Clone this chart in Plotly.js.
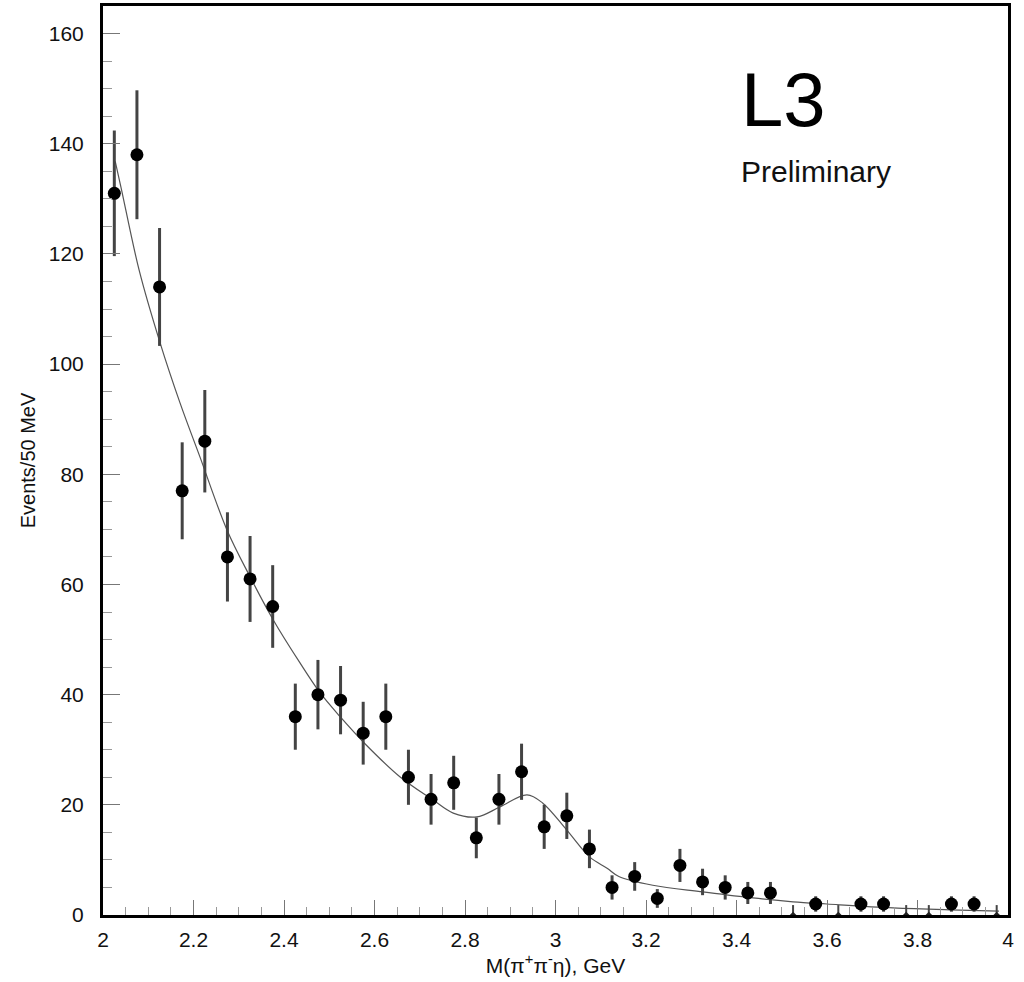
<!DOCTYPE html>
<html>
<head>
<meta charset="utf-8">
<script src="https://cdn.plot.ly/plotly-3.0.1.min.js"></script>
<style>
  html, body { margin: 0; padding: 0; background: #fff; }
  #plot { width: 1024px; height: 982px; }
</style>
</head>
<body>
<div id="plot"></div>
<script>
// Bin centres (GeV), 50 MeV bins
const massBins = [2.025, 2.075, 2.125, 2.175, 2.225, 2.275, 2.325, 2.375, 2.425, 2.475,
                  2.525, 2.575, 2.625, 2.675, 2.725, 2.775, 2.825, 2.875, 2.925, 2.975,
                  3.025, 3.075, 3.125, 3.175, 3.225, 3.275, 3.325, 3.375, 3.425, 3.475,
                  3.575, 3.675, 3.725, 3.875, 3.925];
const events = [131, 138, 114, 77, 86, 65, 61, 56, 36, 40,
                39, 33, 36, 25, 21, 24, 14, 21, 26, 16,
                18, 12, 5, 7, 3, 9, 6, 5, 4, 4,
                2, 2, 2, 2, 2];
const eventErrors = [11.4, 11.7, 10.7, 8.8, 9.3, 8.1, 7.8, 7.5, 6.0, 6.3,
                     6.2, 5.7, 6.0, 5.0, 4.6, 4.9, 3.7, 4.6, 5.1, 4.0,
                     4.2, 3.5, 2.2, 2.6, 1.7, 3.0, 2.4, 2.2, 2.0, 2.0,
                     1.4, 1.4, 1.4, 1.4, 1.4];

// Empty bins, drawn with an upper limit only
const emptyBins = [3.525, 3.625, 3.775, 3.825, 3.975];
const emptyCounts = [0, 0, 0, 0, 0];
const emptyUpper = [1.8, 1.8, 1.8, 1.8, 1.8];

// Fitted curve: background plus peak near 2.93 GeV
const fitMass = [2.027, 2.04, 2.08, 2.126, 2.17, 2.214, 2.274, 2.325, 2.376, 2.435,
                 2.48, 2.524, 2.58, 2.656, 2.729, 2.774, 2.826, 2.877, 2.937, 2.972,
                 3.025, 3.076, 3.114, 3.14, 3.215, 3.326, 3.436, 3.525, 3.6, 3.746,
                 3.894, 3.98];
const fitEvents = [136.8, 132.0, 117.0, 103.9, 93.0, 83.2, 69.9, 61.4, 53.6, 45.8,
                   40.3, 36.0, 31.0, 25.1, 20.9, 18.5, 17.8, 19.6, 21.8, 20.3,
                   15.4, 10.5, 8.5, 7.0, 5.4, 4.2, 3.1, 2.4, 2.0, 1.3,
                   0.9, 0.7];

const xTicks = [2, 2.2, 2.4, 2.6, 2.8, 3, 3.2, 3.4, 3.6, 3.8, 4];
const yTicks = [0, 20, 40, 60, 80, 100, 120, 140, 160];

const traces = [
  {
    x: fitMass, y: fitEvents,
    type: 'scatter', mode: 'lines',
    line: { color: '#555', width: 1.2, shape: 'spline', smoothing: 1 },
    hoverinfo: 'skip'
  },
  {
    x: massBins, y: events,
    type: 'scatter', mode: 'markers',
    marker: { color: '#000', size: 13, symbol: 'circle' },
    error_y: { type: 'data', array: eventErrors, visible: true,
               color: '#444', thickness: 3, width: 0 }
  },
  {
    x: emptyBins, y: emptyCounts,
    type: 'scatter', mode: 'markers',
    marker: { color: '#222', size: 5, symbol: 'diamond' },
    error_y: { type: 'data', array: emptyUpper, arrayminus: emptyCounts, visible: true,
               color: '#444', thickness: 2, width: 0 }
  }
];

const fontFamily = 'Liberation Sans, Arial, sans-serif';
const tickFont = { family: fontFamily, size: 21, color: '#111' };

const layout = {
  width: 1024, height: 982,
  paper_bgcolor: '#fff', plot_bgcolor: '#fff',
  showlegend: false,
  margin: { l: 103, r: 16, t: 6, b: 67 },
  xaxis: {
    range: [2, 4],
    tickvals: xTicks, ticktext: xTicks.map(String),
    ticks: 'inside', ticklen: 15, tickwidth: 1, tickcolor: '#777',
    minor: { dtick: 0.05, tick0: 2, ticks: 'inside', ticklen: 8, tickwidth: 1, tickcolor: '#999' },
    showline: true, linecolor: '#000', linewidth: 3, mirror: true,
    showgrid: false, zeroline: false,
    tickfont: tickFont,
    ticklabelstandoff: 4,
    title: { text: 'M(π<sup>+</sup>π<sup>-</sup>η), GeV',
             font: { family: fontFamily, size: 21, color: '#111' },
             standoff: 8 }
  },
  yaxis: {
    range: [0, 165],
    tickvals: yTicks, ticktext: yTicks.map(String),
    ticks: 'inside', ticklen: 17, tickwidth: 1, tickcolor: '#777',
    minor: { dtick: 5, tick0: 0, ticks: 'inside', ticklen: 9, tickwidth: 1, tickcolor: '#999' },
    showline: true, linecolor: '#000', linewidth: 3, mirror: true,
    showgrid: false, zeroline: false,
    tickfont: tickFont,
    ticklabelstandoff: 12,
    title: { text: 'Events/50 MeV',
             font: { family: fontFamily, size: 20, color: '#111' },
             standoff: 8 }
  },
  annotations: [
    { text: 'L3', xref: 'paper', yref: 'paper', x: 0.703, y: 0.897,
      xanchor: 'left', yanchor: 'middle', showarrow: false,
      font: { family: fontFamily, size: 76, color: '#000' } },
    { text: 'Preliminary', xref: 'paper', yref: 'paper', x: 0.703, y: 0.818,
      xanchor: 'left', yanchor: 'middle', showarrow: false,
      font: { family: fontFamily, size: 30, color: '#111' } }
  ]
};

Plotly.newPlot('plot', traces, layout, { displayModeBar: false, staticPlot: true });
</script>
</body>
</html>
